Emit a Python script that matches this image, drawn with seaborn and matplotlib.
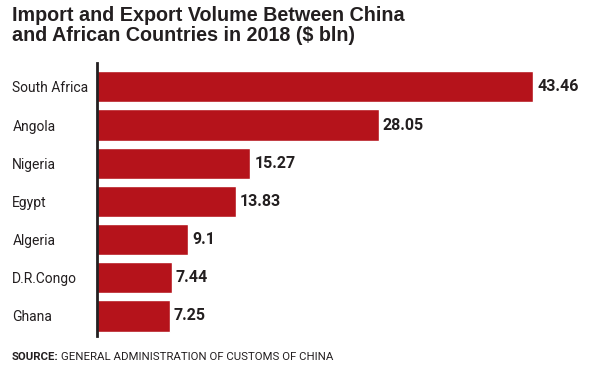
import matplotlib
matplotlib.use("Agg")
import matplotlib.pyplot as plt
import seaborn as sns
import pandas as pd

countries = ["South Africa", "Angola", "Nigeria", "Egypt", "Algeria", "D.R.Congo", "Ghana"]
values = [43.46, 28.05, 15.27, 13.83, 9.1, 7.44, 7.25]
value_labels = ["43.46", "28.05", "15.27", "13.83", "9.1", "7.44", "7.25"]
title = "Import and Export Volume Between China\nand African Countries in 2018 ($ bln)"

df = pd.DataFrame({"country": countries, "value": values})

sns.set_theme(style="white")
plt.rcParams['font.family'] = ['Roboto', 'DejaVu Sans']

RED = "#B5131B"
DARK = "#231F20"

fig = plt.figure(figsize=(5.95, 3.76), dpi=100)
ax = fig.add_axes([0.163, 0.106, 0.837, 0.726])
sns.barplot(data=df, x="value", y="country", color=RED, saturation=1, width=0.82, ax=ax)

ax.set_xlim(0, 49.6)
ax.set_ylim(6.53, -0.62)
for s in ["top", "right", "bottom"]:
    ax.spines[s].set_visible(False)
ax.spines["left"].set_color(DARK)
ax.spines["left"].set_linewidth(2)
ax.set_xticks([])
ax.set_xlabel("")
ax.set_ylabel("")
ax.tick_params(axis="y", length=0, pad=61, labelsize=10, labelcolor=DARK)
for lab in ax.get_yticklabels():
    lab.set_horizontalalignment("left")

for i, (v, t) in enumerate(zip(values, value_labels)):
    ax.text(v + 0.4, i, t, va="center", ha="left", fontsize=11.5,
            fontweight="bold", color=DARK)

fig.text(0.02, 0.985, title, ha="left", va="top", fontsize=14.2, fontweight="bold",
         color=DARK, linespacing=1.1, family=["Liberation Sans", "DejaVu Sans"])

src = fig.text(0.02, 0.05, "SOURCE:", ha="left", va="center", fontsize=8.2,
               fontweight="bold", color=DARK)
fig.canvas.draw()
bb = src.get_window_extent()
x1 = bb.x1 / fig.bbox.width
fig.text(x1 + 0.004, 0.05, "GENERAL ADMINISTRATION OF CUSTOMS OF CHINA", ha="left",
         va="center", fontsize=8.2, color=DARK)

fig.savefig("out.png", dpi=100, facecolor="white")
